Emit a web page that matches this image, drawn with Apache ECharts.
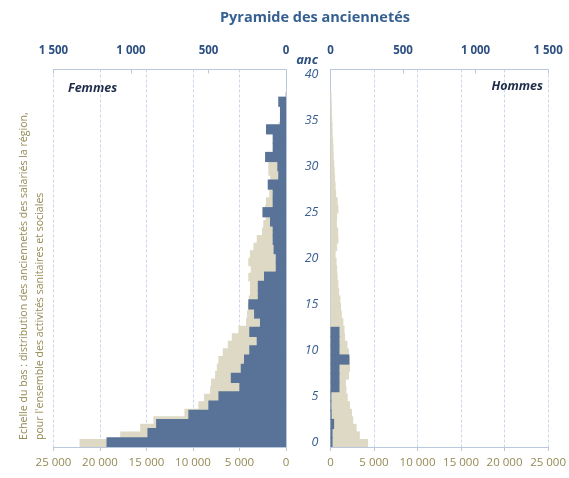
<!DOCTYPE html>
<html>
<head>
<meta charset="utf-8">
<script src="https://cdn.jsdelivr.net/npm/echarts@6/dist/echarts.min.js"></script>
<style>
  html, body { margin: 0; padding: 0; background: #ffffff; }
  #chart { width: 569px; height: 478px; }
</style>
</head>
<body>
<div id="chart"></div>
<script>
// Seniority in years (0..40) for the establishment, 0..49 for the regional reference
const seniorityYears = Array.from({ length: 41 }, (_, i) => String(i));
const regionYears = Array.from({ length: 50 }, (_, i) => String(i));

// Establishment headcount by seniority (top scale, 0 - 1 500)
const femmesEtab = [1158, 894, 838, 630, 501, 436, 301, 356, 292, 271,
                    237, 189, 237, 168, 206, 243, 182, 182, 142, 66,
                    66, 80, 86, 86, 103, 152, 86, 86, 118, 50,
                    56, 135, 86, 86, 129, 39, 39, 50, 0, 0, 0];
const hommesEtab = [14, 14, 25, 8, 6, 6, 62, 62, 62, 130,
                    62, 62, 62, 0, 0, 0, 0, 0, 0, 0,
                    0, 0, 0, 0, 0, 0, 0, 0, 0, 0,
                    0, 0, 0, 0, 0, 0, 0, 0, 0, 0, 0];

// Regional headcount, health and social activities (bottom scale, 0 - 25 000)
const femmesRegion = [22200, 17830, 15680, 14250, 10920, 9420, 8810, 8160, 8055, 7625,
                      7440, 7270, 6800, 6260, 5830, 5120, 4300, 4190, 4100, 4000,
                      3870, 3870, 4050, 3790, 4050, 3870, 3500, 3150, 2580, 2440,
                      2200, 2250, 2150, 1790, 1790, 1700, 1900, 1900, 1850, 1400,
                      1100, 900, 800, 600, 500, 400, 100, 0, 0, 0];
const hommesRegion = [4320, 3370, 3000, 2610, 2470, 2240, 1980, 1840, 1780, 2120,
                      2240, 2240, 2120, 1950, 1670, 1610, 1480, 1300, 1215, 1140,
                      990, 910, 820, 760, 700, 590, 760, 910, 875, 730,
                      760, 910, 820, 650, 590, 530, 480, 420, 360, 340,
                      310, 250, 230, 190, 160, 140, 110, 0, 0, 0];

const topScale = { max: 1500, step: 500 };
const bottomScale = { max: 25000, step: 5000 };

const BLUE_BAR = '#587397';
const BEIGE_BAR = '#DDD9C4';
const AXIS_LINE = '#B9C8DC';
const GRID_LINE = '#C9D7EA';
const TITLE_BLUE = '#365F91';
const TOP_LABEL = '#2D5081';
const OLIVE = '#948A54';
const FONT = '"Open Sans", "Noto Sans", sans-serif';

const frNum = v => String(v).replace(/\B(?=(\d{3})+$)/g, ' ');

const GRID_TOP = 69.5;
const GRID_H = 377.5;
// bars are drawn one pixel thicker than their band so neighbours overlap
// and no anti-aliased seam shows between consecutive years
const BLUE_BAR_W = GRID_H / seniorityYears.length + 1;
const BEIGE_BAR_W = GRID_H / regionYears.length + 1;

function topAxis(grid, inverse) {
  return {
    type: 'value', gridIndex: grid, position: 'top', inverse: inverse,
    min: 0, max: topScale.max, interval: topScale.step,
    axisLine: { show: true, lineStyle: { color: AXIS_LINE, width: 1 } },
    axisTick: { show: true, inside: true, length: 4, lineStyle: { color: AXIS_LINE } },
    axisLabel: { color: TOP_LABEL, fontWeight: 'bold', fontSize: 11.5, fontFamily: FONT,
                 margin: 13, formatter: frNum },
    splitLine: { show: false }
  };
}
function bottomAxis(grid, inverse) {
  return {
    type: 'value', gridIndex: grid, position: 'bottom', inverse: inverse,
    min: 0, max: bottomScale.max, interval: bottomScale.step,
    axisLine: { show: true, lineStyle: { color: AXIS_LINE, width: 1 } },
    axisTick: { show: true, inside: false, length: 4, lineStyle: { color: AXIS_LINE } },
    axisLabel: { color: OLIVE, fontSize: 11.5, fontFamily: FONT, margin: 10, formatter: frNum },
    splitLine: { show: true, lineStyle: { color: GRID_LINE, type: [3, 2], width: 1 } }
  };
}
function yearAxis(grid, position, showLabels) {
  return {
    type: 'category', gridIndex: grid, position: position, data: seniorityYears,
    boundaryGap: true,
    axisLine: { show: true, lineStyle: { color: AXIS_LINE } },
    axisTick: { show: false },
    axisLabel: showLabels ? {
      show: true, interval: 4, color: '#3A5E92', fontStyle: 'italic',
      fontSize: 12.5, fontFamily: FONT, margin: 12, align: 'right'
    } : { show: false },
    splitLine: { show: false }
  };
}
function regionAxis(grid) {
  return {
    type: 'category', gridIndex: grid, data: regionYears, boundaryGap: true,
    show: false
  };
}

const chart = echarts.init(document.getElementById('chart'), null, { renderer: 'canvas' });
chart.setOption({
  animation: false,
  backgroundColor: '#ffffff',
  grid: [
    { left: 53.5, top: GRID_TOP, width: 232.5, height: GRID_H },
    { left: 330.5, top: GRID_TOP, width: 218.5, height: GRID_H }
  ],
  xAxis: [
    topAxis(0, true),      // 0: establishment, women
    bottomAxis(0, true),   // 1: region, women
    topAxis(1, false),     // 2: establishment, men
    bottomAxis(1, false)   // 3: region, men
  ],
  yAxis: [
    yearAxis(0, 'right', false),
    regionAxis(0),
    yearAxis(1, 'left', true),
    regionAxis(1)
  ],
  series: [
    { name: 'Femmes région', type: 'bar', xAxisIndex: 1, yAxisIndex: 1, data: femmesRegion,
      barWidth: BEIGE_BAR_W, itemStyle: { color: BEIGE_BAR }, z: 2, silent: true },
    { name: 'Femmes', type: 'bar', xAxisIndex: 0, yAxisIndex: 0, data: femmesEtab,
      barWidth: BLUE_BAR_W, itemStyle: { color: BLUE_BAR }, z: 3, silent: true },
    { name: 'Hommes région', type: 'bar', xAxisIndex: 3, yAxisIndex: 3, data: hommesRegion,
      barWidth: BEIGE_BAR_W, itemStyle: { color: BEIGE_BAR }, z: 2, silent: true },
    { name: 'Hommes', type: 'bar', xAxisIndex: 2, yAxisIndex: 2, data: hommesEtab,
      barWidth: BLUE_BAR_W, itemStyle: { color: BLUE_BAR }, z: 3, silent: true }
  ],
  graphic: [
    { type: 'text', x: 315, y: 18, style: {
        text: 'Pyramide des anciennetés', fill: TITLE_BLUE, font: 'bold 14.5px ' + FONT,
        align: 'center', verticalAlign: 'middle' } },
    { type: 'text', x: 318, y: 60, style: {
        text: 'anc', fill: '#2D5081', font: 'italic bold 13px ' + FONT,
        align: 'right', verticalAlign: 'middle' } },
    { type: 'text', x: 68, y: 88, style: {
        text: 'Femmes', fill: '#1F2D4A', font: 'italic bold 12.5px ' + FONT,
        align: 'left', verticalAlign: 'middle' } },
    { type: 'text', x: 543, y: 86, style: {
        text: 'Hommes', fill: '#1F2D4A', font: 'italic bold 12.5px ' + FONT,
        align: 'right', verticalAlign: 'middle' } },
    { type: 'text', x: 24, y: 440, rotation: Math.PI / 2, style: {
        text: 'Echelle du bas : distribution des anciennetés des salariés la région,',
        fill: OLIVE, font: '10.6px ' + FONT, align: 'left', verticalAlign: 'middle' } },
    { type: 'text', x: 40, y: 440, rotation: Math.PI / 2, style: {
        text: "pour l'ensemble des activités sanitaires et sociales",
        fill: OLIVE, font: '10.6px ' + FONT, align: 'left', verticalAlign: 'middle' } }
  ]
});
</script>
</body>
</html>
